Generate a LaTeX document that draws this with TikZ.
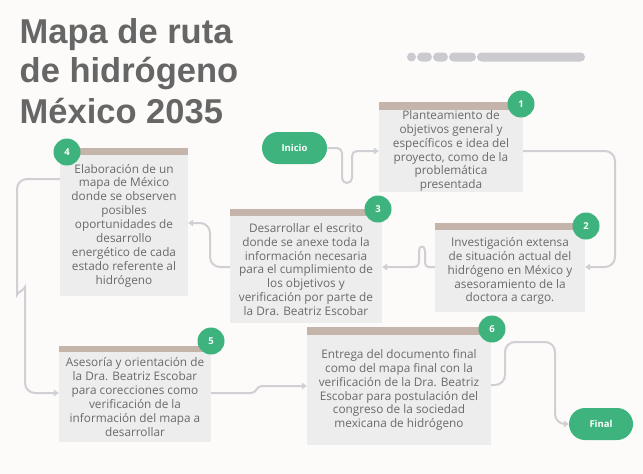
\documentclass[tikz,border=0pt]{standalone}
\usepackage{fontspec}
\setmainfont{Open Sans}
\newfontfamily\titlefont{Liberation Sans}
\usetikzlibrary{arrows.meta,calc}
\definecolor{bg}{HTML}{FDFBF9}
\definecolor{boxfill}{HTML}{EDEDED}
\definecolor{barcol}{HTML}{C5B4A9}
\definecolor{badge}{HTML}{3EB37E}
\definecolor{txt}{HTML}{6A6A6A}
\definecolor{ttl}{HTML}{666666}
\definecolor{linec}{HTML}{CFCFD4}
\definecolor{pillc}{HTML}{CACACF}
\tikzset{
  stepbox/.style={fill=boxfill, inner sep=0pt, align=center, text=txt,
    font=\fontsize{11.8}{13.9}\selectfont},
  badgenode/.style={circle, fill=badge, minimum size=27pt, inner sep=0pt,
    text=white, font=\bfseries\fontsize{9.5}{12}\selectfont},
  terminal/.style={fill=badge, rounded corners=16pt, minimum width=65pt,
    minimum height=32pt, inner sep=0pt, text=white, font=\bfseries\fontsize{9.5}{12}\selectfont},
  conn/.style={draw=linec, line width=2pt, -{Triangle[length=5pt,width=6.5pt]}},
  titlenode/.style={anchor=base west, inner sep=0pt, text=ttl,
    font=\titlefont\bfseries\fontsize{34.5}{40}\selectfont},
}
\begin{document}
\begin{tikzpicture}[x=1pt,y=-1pt]
\useasboundingbox (0,0) rectangle (643,474);
\fill[bg] (0,0) rectangle (643,474);

% title
\node[titlenode] (t1) at (19.5,43) {Mapa de ruta};
\node[titlenode] (t2) at (19.5,82) {de hidrógeno};
\node[titlenode] (t3) at (19.5,123) {México 2035};

% progress pills
\fill[pillc, rounded corners=4.5pt] (407,52.5) rectangle (416,61.5);
\fill[pillc, rounded corners=4.5pt] (417,52.5) rectangle (432,61.5);
\fill[pillc, rounded corners=4.5pt] (433,52.5) rectangle (448,61.5);
\fill[pillc, rounded corners=4.5pt] (449,52.5) rectangle (476,61.5);
\fill[pillc, rounded corners=4.5pt] (477,52.5) rectangle (585,61.5);

% boxes
\node[stepbox, minimum width=144pt, minimum height=80pt] (b1) at (451,151)
  {Planteamiento de\\objetivos general y\\específicos e idea del\\proyecto, como de la\\problemática\\presentada};
\node[stepbox, minimum width=150pt, minimum height=82pt] (b2) at (510,271)
  {Investigación extensa\\de situación actual del\\hidrógeno en México y\\asesoramiento de la\\doctora a cargo.};
\node[stepbox, minimum width=152pt, minimum height=107pt] (b3) at (306,269.5)
  {Desarrollar el escrito\\donde se anexe toda la\\información necesaria\\para el cumplimiento de\\los objetivos y\\verificación por parte de\\la Dra. Beatriz Escobar};
\node[stepbox, minimum width=128pt, minimum height=141pt] (b4) at (124,225.5)
  {Elaboración de un\\mapa de México\\donde se observen\\posibles\\oportunidades de\\desarrollo\\energético de cada\\estado referente al\\hidrógeno};
\node[stepbox, minimum width=152pt, minimum height=90pt] (b5) at (135,397)
  {Asesoría y orientación de\\la Dra. Beatriz Escobar\\para corecciones como\\verificación de la\\información del mapa a\\desarrollar};
\node[stepbox, minimum width=184pt, minimum height=110pt] (b6) at (399,390)
  {Entrega del documento final\\como del mapa final con la\\verificación de la Dra. Beatriz\\Escobar para postulación del\\congreso de la sociedad\\mexicana de hidrógeno};

% bars
\fill[barcol] (b1.north west) rectangle ([yshift=8pt]b1.north east);
\fill[barcol] (b2.north west) rectangle ([yshift=7pt]b2.north east);
\fill[barcol] (b3.north west) rectangle ([yshift=6.5pt]b3.north east);
\fill[barcol] (b4.north west) rectangle ([yshift=7pt]b4.north east);
\fill[barcol] (b5.north west) rectangle ([yshift=6pt]b5.north east);
\fill[barcol] (b6.north west) rectangle ([yshift=8pt]b6.north east);

% badges
\node[badgenode] (n1) at (521,104) {1};
\node[badgenode] (n2) at (586,226) {2};
\node[badgenode] (n3) at (378,209) {3};
\node[badgenode] (n4) at (67,152) {4};
\node[badgenode] (n5) at (211,341) {5};
\node[badgenode] (n6) at (492,329) {6};

% terminals
\node[terminal] (ini) at (294.5,148) {Inicio};
\node[terminal, minimum width=64pt] (fin) at (601,424) {Final};

% connectors
\draw[conn, rounded corners=5pt] (ini.east) -| (342,183) -| (352,151) -- (b1.west);
\draw[conn, rounded corners=10pt] (b1.east) -| (615,267) -- ([yshift=4pt]b2.east);
\draw[conn] ([yshift=4pt]b2.west) -- (429,267) .. controls (425.5,267) and (425,264) .. (425,260)
  -- (425,251) .. controls (425,245) and (419,245) .. (419,251) -- (419,260)
  .. controls (419,265) and (418,267) .. (413,267) -- ([yshift=2.5pt]b3.east);
\draw[conn, rounded corners=10pt] ([yshift=2.5pt]b3.west) -| (210,223) -- ([yshift=2.5pt]b4.east);
\draw[conn, rounded corners=10pt] ([yshift=46.5pt]b4.west) -| (17,285)
  .. controls (17,293) and (25,289) .. (25,297) |- ([yshift=4pt]b5.west);
\draw[conn] ([yshift=4pt]b5.east) -- (251,393) .. controls (257,393) and (256,386) .. (262,386)
  -- ([yshift=4pt]b6.west);
\draw[conn, rounded corners=10pt] ([yshift=5pt]b6.east) -| (505,342) -| (555,424) -- (fin.west);
\end{tikzpicture}
\end{document}
